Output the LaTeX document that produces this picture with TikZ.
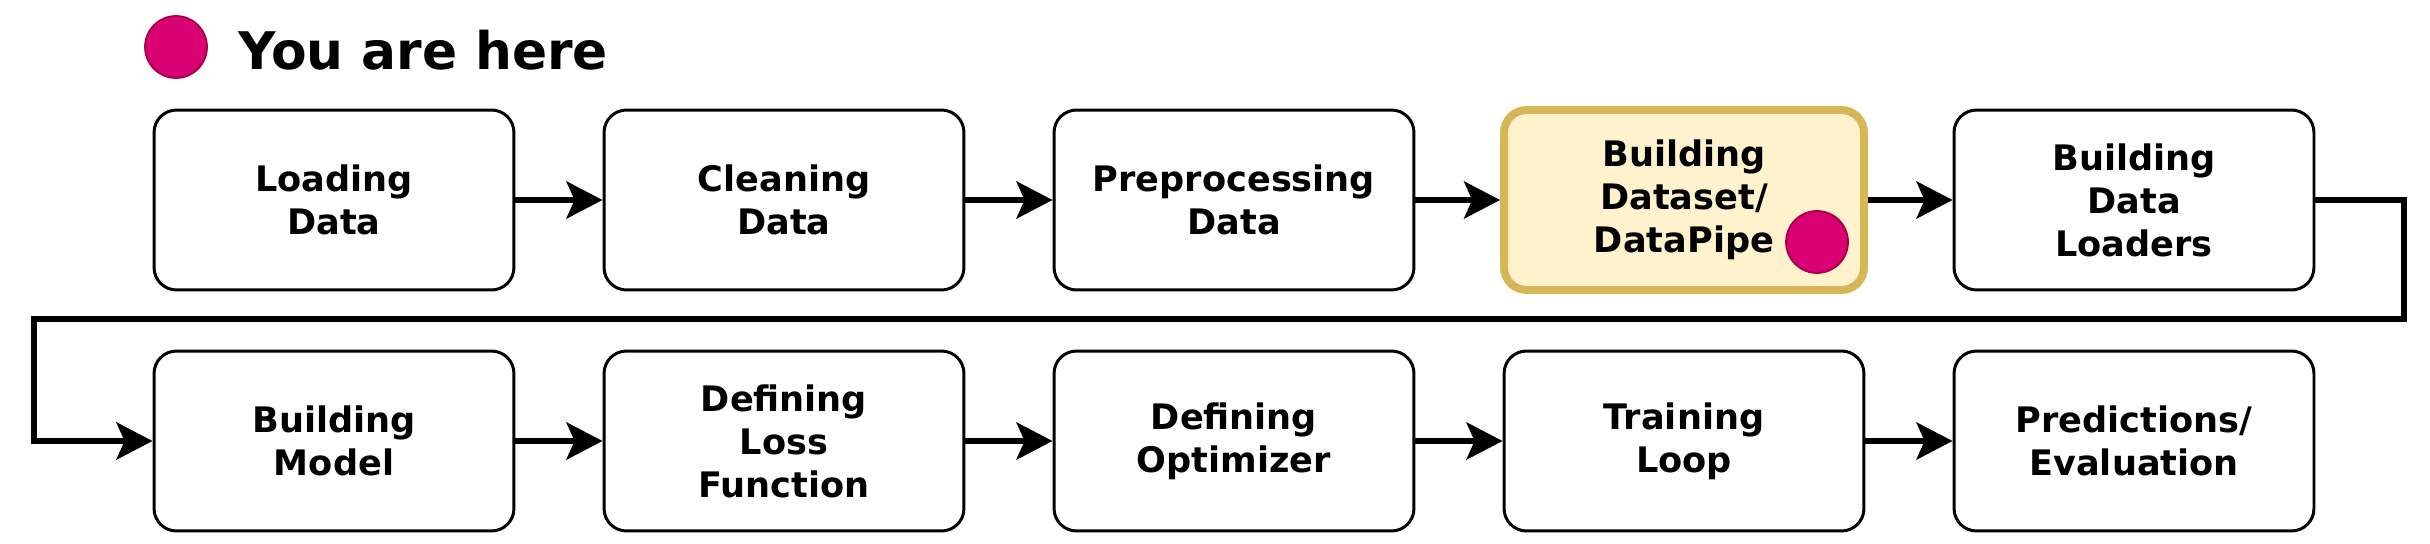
\documentclass[tikz,border=0pt]{standalone}
\usepackage{fontspec}
\setmainfont{DejaVu Sans}
\usetikzlibrary{positioning}
\usetikzlibrary{arrows.meta}
\definecolor{dot}{HTML}{D80073}
\definecolor{dotline}{HTML}{A50040}
\definecolor{hifill}{HTML}{FFF2CC}
\definecolor{hiline}{HTML}{D6B656}

\begin{document}
\begin{tikzpicture}[x=0.02cm,y=-0.02cm,
        box/.style={draw, line width=1.7pt, rounded corners=0.45cm, minimum width=7.2cm, minimum height=3.6cm, align=center, font=\bfseries\fontsize{20pt}{24.5pt}\selectfont, execute at begin node={\rule{0pt}{0.69cm}}},
        hilite/.style={draw=hiline, fill=hifill, line width=4.5pt},
        dotmark/.style={circle, fill=dot, draw=dotline, line width=1pt, minimum size=1.24cm, inner sep=0pt},
        flow/.style={line width=3.4pt, -{Stealth[length=0.72cm,width=0.74cm,inset=0.16cm]}}]
        \useasboundingbox (0,0) rectangle (2430,544);

        % legend
        \node[dotmark] (legenddot) at (176,47) {};
        \node[anchor=base west, inner sep=0pt, font=\bfseries\fontsize{29.5pt}{34pt}\selectfont] (legend) at (238,70) {You are here};

        % first row
        \foreach \i/\txt in {1/{Loading\\Data},2/{Cleaning\\Data},3/{Preprocessing\\Data},5/{Building\\Data\\Loaders}}
        \node[box] (b\i) at (334+450*\i-450,200) {\txt};
        \node[box,hilite] (b4) at (1684,200) {Building\\Dataset/\\DataPipe};
        \node[dotmark] (here) at (1817,242) {};

        % second row
        \foreach \i/\txt in {6/{Building\\Model},7/{Defining\\Loss\\Function},8/{Defining\\Optimizer},9/{Training\\Loop},10/{Predictions/\\Evaluation}}
        \node[box] (b\i) at (334+450*\i-2700,441) {\txt};

        % arrows
        \foreach \a/\b in {1/2,2/3,3/4,4/5,6/7,7/8,8/9,9/10}
        \draw[flow] (b\a) -- (b\b);

        \coordinate (turnR) at (2404,319);
        \coordinate (turnL) at (34,319);
        \draw[flow] (b5.east) -| (turnR) -- (turnL) |- (b6.west);
    \end{tikzpicture}
\end{document}
